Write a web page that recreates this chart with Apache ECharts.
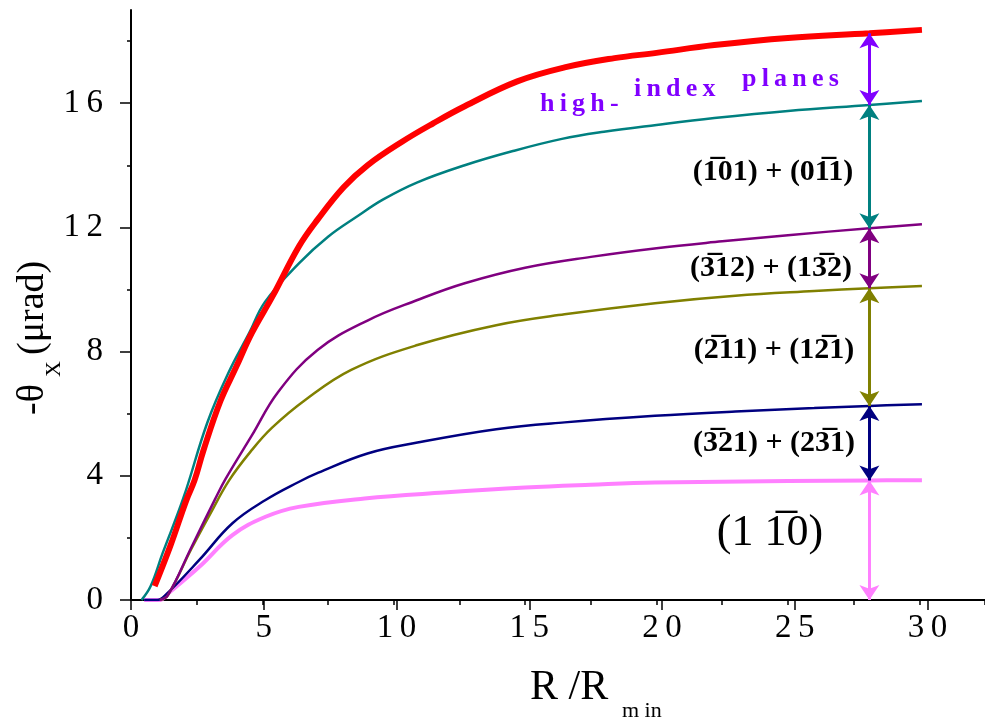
<!DOCTYPE html>
<html>
<head>
<meta charset="utf-8">
<script src="https://cdn.jsdelivr.net/npm/echarts@6/dist/echarts.min.js"></script>
<style>
  html, body { margin: 0; background: #fff; }
  #main { width: 985px; height: 719px; }
</style>
</head>
<body>
<div id="main"></div>
<script>
// x = R/Rmin, y = -theta_x (urad)
var highIndex = [[0.9,0.45],[1.5,1.75],[2.1,3.2],[2.42,3.86],[2.75,4.8],[3.4,6.4],[4,7.5],[4.6,8.6],[5.4,9.8],[6.4,11.4],[7.1,12.25],[8.1,13.3],[9,14],[10.3,14.75],[11.5,15.35],[12.7,15.9],[14.7,16.7],[16.5,17.15],[18.4,17.45],[20,17.62],[22.2,17.87],[25,18.1],[28.1,18.25],[30.1,18.36]];
var p101 = [[0.4,0],[0.75,0.45],[1.2,1.5],[2,3.3],[2.9,5.7],[3.7,7.3],[4.5,8.6],[5.1,9.6],[6.4,10.85],[7.5,11.7],[8.6,12.35],[9.6,12.9],[10.9,13.45],[12.7,14.0],[14.5,14.45],[16.4,14.85],[18,15.08],[20,15.3],[22.2,15.52],[25,15.75],[28.1,15.94],[30.1,16.07]];
var p312 = [[1.1,0],[1.4,0.15],[2.3,1.7],[3.2,3.25],[3.6,3.9],[4.6,5.3],[5.6,6.7],[7.1,8.05],[9,9.0],[10.9,9.66],[12.7,10.2],[15,10.7],[17.5,11.05],[20,11.33],[22.5,11.55],[25,11.75],[28.1,11.97],[30.1,12.1]];
var p211 = [[1.1,0],[1.4,0.15],[2.3,1.65],[3.0,2.75],[3.74,3.86],[4.62,4.85],[5.37,5.55],[6.63,6.44],[8.38,7.41],[10.9,8.21],[13.9,8.85],[16.5,9.2],[19.94,9.56],[23,9.8],[26,9.95],[28.1,10.04],[30.1,10.11]];
var p321 = [[0.5,0],[1.0,0],[1.36,0.2],[2.6,1.29],[3.86,2.47],[5.12,3.22],[6.38,3.8],[7.13,4.1],[9.0,4.72],[10.9,5.07],[13.9,5.5],[16.5,5.72],[19.94,5.93],[23,6.07],[26,6.18],[28.1,6.25],[30.1,6.3]];
var p110 = [[0.5,0],[1.1,0],[1.4,0.2],[2.6,1.07],[3.86,2.09],[5.12,2.68],[6.38,3.0],[8.89,3.27],[11.9,3.46],[15,3.62],[17.5,3.71],[19.94,3.78],[25,3.83],[28.1,3.85],[30.1,3.86]];

var xTicks = [0, 5, 10, 15, 20, 25, 30];
var yTicks = [0, 4, 8, 12, 16];
var arrowX = 28.1;

var cPink = '#ff80ff', cNavy = '#000080', cOlive = '#808000',
    cPurple = '#800080', cTeal = '#008080', cRed = '#ff0000', cViolet = '#8000ff';

function at(pts) {
  for (var i = 0; i < pts.length; i++) if (pts[i][0] === arrowX) return pts[i][1];
  return 0;
}
function spaced(s) { return String(s).split('').join('\u2009'); }

var levels = [0, at(p110), at(p321), at(p211), at(p312), at(p101), at(highIndex)];
var arrowColors = [cPink, cNavy, cOlive, cPurple, cTeal, cViolet];
var arrows = [];
for (var i = 0; i < arrowColors.length; i++) {
  arrows.push([
    { coord: [arrowX, levels[i]], lineStyle: { color: arrowColors[i] } },
    { coord: [arrowX, levels[i + 1]], lineStyle: { color: arrowColors[i] } }
  ]);
}

var serif = 'Liberation Serif';
var tickFont = { fontFamily: serif, fontSize: 33, color: '#000' };

function curve(name, pts, color, w) {
  return {
    name: name, type: 'line', data: pts, showSymbol: false,
    smooth: 0.4, silent: true,
    lineStyle: { color: color, width: w }
  };
}

var chart = echarts.init(document.getElementById('main'));
chart.setOption({
  animation: false,
  backgroundColor: '#fff',
  grid: [
    { left: 131, top: 10, width: 863, height: 590 },        // main plot
    { left: 131, top: 103.2, width: 796.5, height: 496.8 }, // major ticks
    { left: 131, top: 41.1, width: 796.5, height: 558.9 }   // y minor ticks
  ],
  xAxis: [
    { gridIndex: 0, type: 'value', min: 0, max: 32.5, interval: 2.5,
      axisLine: { lineStyle: { color: '#000', width: 2 } },
      axisTick: { length: 5, lineStyle: { color: '#000', width: 1.5 } },
      axisLabel: { show: false }, splitLine: { show: false } },
    { gridIndex: 1, type: 'value', min: 0, max: 30, interval: 5,
      axisLine: { show: false },
      axisTick: { length: 10, lineStyle: { color: '#000', width: 1.5 } },
      axisLabel: Object.assign({ margin: 12, formatter: function (v) {
        return xTicks.indexOf(v) >= 0 ? spaced(v) : ''; } }, tickFont),
      splitLine: { show: false } },
    { gridIndex: 2, type: 'value', min: 0, max: 30, show: false }
  ],
  yAxis: [
    { gridIndex: 0, type: 'value', min: 0, max: 19,
      axisLine: { show: true, lineStyle: { color: '#000', width: 2 } },
      axisTick: { show: false }, axisLabel: { show: false }, splitLine: { show: false } },
    { gridIndex: 1, type: 'value', min: 0, max: 16, interval: 4,
      axisLine: { show: false },
      axisTick: { show: true, length: 11, lineStyle: { color: '#000', width: 1.5 } },
      axisLabel: Object.assign({ margin: 28, formatter: function (v) {
        return yTicks.indexOf(v) >= 0 ? spaced(v) : ''; } }, tickFont),
      splitLine: { show: false } },
    { gridIndex: 2, type: 'value', min: 0, max: 18, interval: 2,
      axisLine: { show: false },
      axisTick: { show: true, length: 4, lineStyle: { color: '#000', width: 1.5 } },
      axisLabel: { show: false }, splitLine: { show: false } }
  ],
  series: [
    curve('(1-10)', p110, cPink, 4),
    curve('(-321)+(2-31)', p321, cNavy, 2.5),
    curve('(-211)+(1-21)', p211, cOlive, 2.5),
    curve('(-312)+(1-32)', p312, cPurple, 2.5),
    curve('(-101)+(0-11)', p101, cTeal, 2.5),
    curve('high-index planes', highIndex, cRed, 6),
    { name: 'gaps', type: 'line', data: [], silent: true,
      markLine: { silent: true, symbol: ['arrow', 'arrow'], symbolSize: 15,
        label: { show: false }, emphasis: { disabled: true },
        lineStyle: { width: 3, type: 'solid' }, data: arrows } }
  ],
  graphic: [
    // axis titles
    { type: 'text', x: 33, y: 415, rotation: Math.PI / 2,
      style: { text: '-θ', font: '38px ' + serif, fill: '#000', align: 'left', verticalAlign: 'middle' } },
    { type: 'text', x: 54, y: 377, rotation: Math.PI / 2,
      style: { text: 'X', font: '22px ' + serif, fill: '#000', align: 'left', verticalAlign: 'middle' } },
    { type: 'text', x: 33, y: 355, rotation: Math.PI / 2,
      style: { text: '(μrad)', font: '38px ' + serif, fill: '#000', align: 'left', verticalAlign: 'middle' } },
    { type: 'text', x: 530, y: 688,
      style: { text: 'R /R', font: '42px ' + serif, fill: '#000', align: 'left', verticalAlign: 'middle' } },
    { type: 'text', x: 622, y: 711,
      style: { text: 'm in', font: '22px ' + serif, fill: '#000', align: 'left', verticalAlign: 'middle' } },
    // plane labels
    { type: 'text', x: 540, y: 104,
      style: { text: spaced('high-'), font: 'bold 26px ' + serif, fill: cViolet, align: 'left', verticalAlign: 'middle' } },
    { type: 'text', x: 634, y: 89,
      style: { text: spaced('index'), font: 'bold 26px ' + serif, fill: cViolet, align: 'left', verticalAlign: 'middle' } },
    { type: 'text', x: 742, y: 79,
      style: { text: spaced('planes'), font: 'bold 26px ' + serif, fill: cViolet, align: 'left', verticalAlign: 'middle' } },
    { type: 'text', x: 773, y: 172,
      style: { text: '(1\u030501) + (01\u03051)', font: 'bold 30px ' + serif, fill: '#000', align: 'center', verticalAlign: 'middle' } },
    { type: 'text', x: 771, y: 268,
      style: { text: '(3\u030512) + (13\u03052)', font: 'bold 30px ' + serif, fill: '#000', align: 'center', verticalAlign: 'middle' } },
    { type: 'text', x: 774, y: 350,
      style: { text: '(2\u030511) + (12\u03051)', font: 'bold 30px ' + serif, fill: '#000', align: 'center', verticalAlign: 'middle' } },
    { type: 'text', x: 774, y: 443,
      style: { text: '(3\u030521) + (23\u03051)', font: 'bold 30px ' + serif, fill: '#000', align: 'center', verticalAlign: 'middle' } },
    { type: 'text', x: 770, y: 533,
      style: { text: '(1 1\u03050)', font: '44px ' + serif, fill: '#000', align: 'center', verticalAlign: 'middle' } }
  ]
});
</script>
</body>
</html>
